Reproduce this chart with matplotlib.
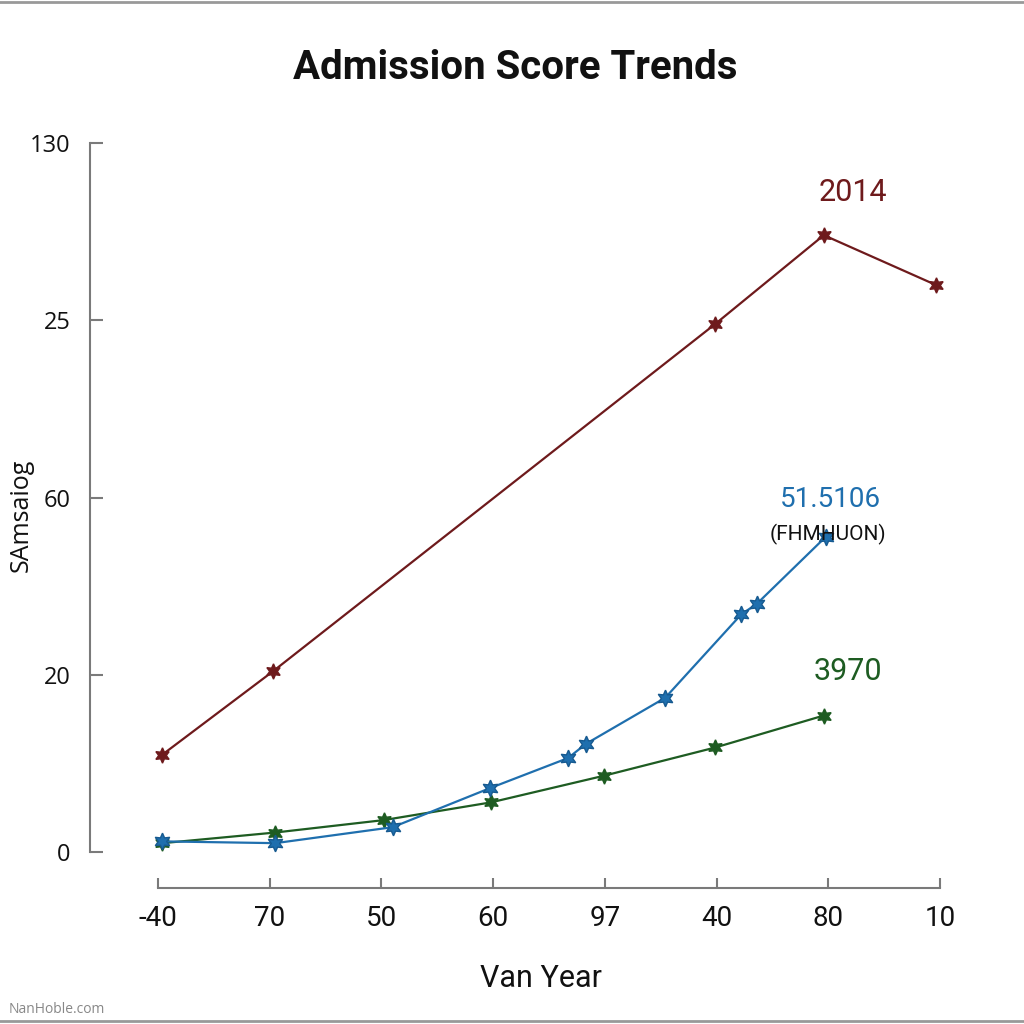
import matplotlib
matplotlib.use("Agg")
import matplotlib.pyplot as plt
from matplotlib.lines import Line2D

# categorical x positions and their (odd) tick labels
x_labels = ["-40", "70", "50", "60", "97", "40", "80", "10"]
# y axis is evenly spaced with these labels
y_labels = ["0", "20", "60", "25", "130"]

# series values, in y-tick position units
red_x = [0.04, 1.03, 4.99, 5.96, 6.96]
red_y = [0.55, 1.02, 2.98, 3.48, 3.20]

blue_x = [0.04, 1.05, 2.10, 2.97, 3.67, 3.83, 4.54, 5.22, 5.36, 5.98]
blue_y = [0.06, 0.05, 0.14, 0.36, 0.53, 0.61, 0.87, 1.34, 1.40, 1.78]

green_x = [0.04, 1.05, 2.02, 2.98, 3.99, 4.99, 5.96]
green_y = [0.05, 0.11, 0.18, 0.28, 0.43, 0.59, 0.77]

red = "#6e1a1c"
blue = "#1f6fae"
green = "#1e5c22"
spine_c = "#7a7a7a"
star = (6, 1, 0)

plt.rcParams["font.family"] = ["Open Sans", "DejaVu Sans"]

fig = plt.figure(figsize=(10.24, 10.24), dpi=100)
ax = fig.add_axes([90 / 1024, 136 / 1024, 850 / 1024, 745 / 1024])

ax.plot(red_x, red_y, color=red, lw=1.6, marker=star, ms=11, mfc=red, mec=red, clip_on=False)
ax.plot(green_x, green_y, color=green, lw=1.6, marker=star, ms=11, mfc=green, mec=green, clip_on=False)
ax.plot(blue_x, blue_y, color=blue, lw=1.6, marker=star, ms=12, mfc=blue, mec="#175a90", clip_on=False)

ax.set_xlim(-0.609, 7.0)
ax.set_ylim(-0.203, 4.0)

for s in ["top", "right"]:
    ax.spines[s].set_visible(False)
for s in ["left", "bottom"]:
    ax.spines[s].set_color(spine_c)
    ax.spines[s].set_linewidth(1.5)
ax.spines["left"].set_bounds(0, 4)
ax.spines["bottom"].set_bounds(0, 7)

ax.set_xticks(range(len(x_labels)))
ax.set_xticklabels(x_labels, family="Roboto", fontsize=20, color="#111111")
ax.set_yticks(range(len(y_labels)))
ax.set_yticklabels(y_labels, fontsize=17, color="#111111")
ax.tick_params(axis="y", direction="in", length=9, width=1.5, color=spine_c, pad=14)
ax.tick_params(axis="x", direction="in", length=7, width=1.5, color=spine_c, pad=12)

ax.set_xlabel("Van Year", family="Roboto", fontsize=22, color="#111111")
ax.xaxis.set_label_coords(0.53, -0.102)
ax.set_ylabel("SAmsaiog", fontsize=18, color="#111111")
ax.yaxis.set_label_coords(-0.066, 0.5)

ax.set_title("Admission Score Trends", family="Roboto", weight="bold", fontsize=29,
             color="#111111", pad=46)

ax.text(6.22, 3.72, "2014", family="Roboto", fontsize=22, color=red, ha="center", va="center")
ax.text(6.02, 1.99, "51.5106", family="Roboto", fontsize=20, color=blue, ha="center", va="center")
ax.text(6.0, 1.79, "(FHMHUON)", family="Roboto", fontsize=15, color="#111111", ha="center", va="center")
ax.text(6.18, 1.02, "3970", family="Roboto", fontsize=22, color=green, ha="center", va="center")

fig.text(0.008, 0.011, "NanHoble.com", fontsize=10, color="#888888")
fig.add_artist(Line2D([0, 1], [0.998, 0.998], color="#999999", lw=2))
fig.add_artist(Line2D([0, 1], [0.003, 0.003], color="#999999", lw=2))

fig.savefig("out.png", dpi=100, facecolor="white")
